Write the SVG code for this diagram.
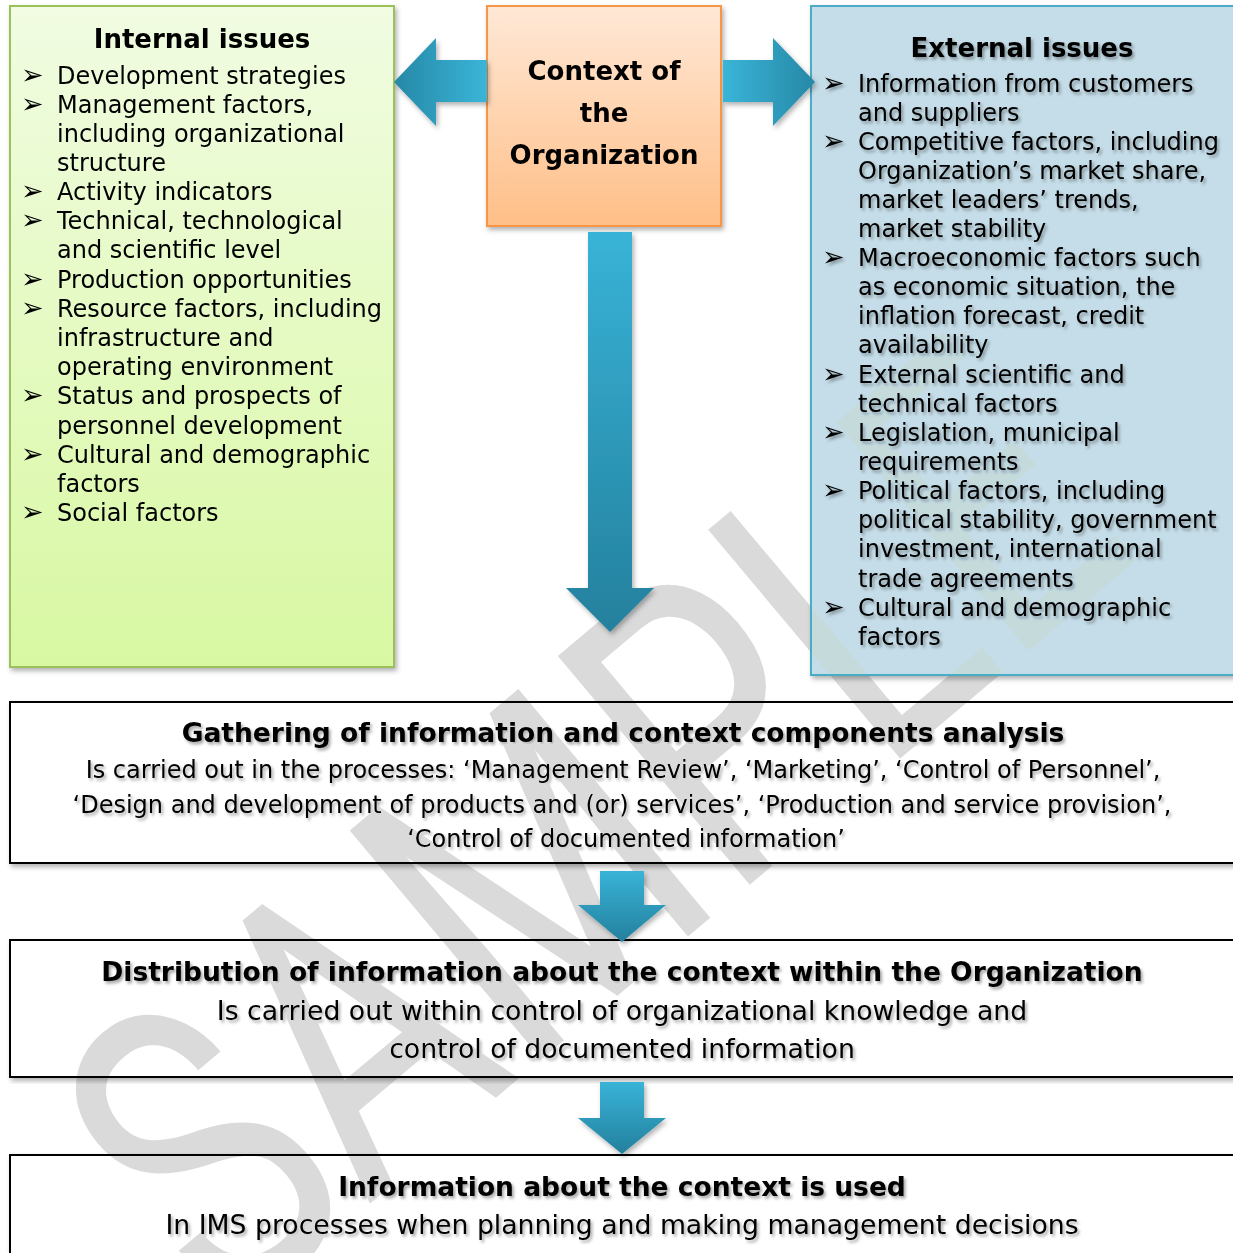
<svg xmlns="http://www.w3.org/2000/svg" width="1233" height="1253" viewBox="0 0 1233 1253">
<defs>
<linearGradient id="gGreen" x1="0" y1="0" x2="0" y2="1"><stop offset="0" stop-color="#f1fce2"/><stop offset="1" stop-color="#d8f8a2"/></linearGradient>
<linearGradient id="gOrange" x1="0" y1="0" x2="0" y2="1"><stop offset="0" stop-color="#ffe8d6"/><stop offset="1" stop-color="#ffbf88"/></linearGradient>
<linearGradient id="gLeft" x1="0" y1="0" x2="1" y2="0"><stop offset="0" stop-color="#2688a6"/><stop offset="1" stop-color="#3ab5d8"/></linearGradient>
<linearGradient id="gRight" x1="0" y1="0" x2="1" y2="0"><stop offset="0" stop-color="#3ab5d8"/><stop offset="1" stop-color="#2688a6"/></linearGradient>
<linearGradient id="gDown" x1="0" y1="0" x2="0" y2="1"><stop offset="0" stop-color="#38b3d7"/><stop offset="1" stop-color="#24809d"/></linearGradient>
<filter id="boxShadow" x="-5%" y="-5%" width="110%" height="110%"><feDropShadow dx="2" dy="3" stdDeviation="2.5" flood-color="#000" flood-opacity="0.3"/></filter>
<filter id="txtShadow" x="-5%" y="-20%" width="110%" height="160%"><feDropShadow dx="2" dy="2.5" stdDeviation="1.8" flood-color="#000" flood-opacity="0.35"/></filter>
</defs>
<style>
text{font-family:"DejaVu Sans","Verdana",sans-serif;fill:#000}
.h{font-weight:bold;font-size:26px;text-anchor:middle}
.li{font-size:24px}
.b{font-size:27px}
.t2{font-weight:bold;font-size:26.5px;text-anchor:middle}
.s2{font-size:24px;text-anchor:middle}
.s3{font-size:26.7px;text-anchor:middle}
.sh{filter:url(#txtShadow)}
.wbox{fill:#fff;stroke:#000;stroke-width:2}
.wm{font-family:Roboto,"DejaVu Sans",sans-serif;font-weight:400;font-size:420px;fill:#dadada}
</style>

<g id="internal-issues">
<rect x="10" y="6" width="384" height="661" fill="url(#gGreen)" stroke="#9bc25a" stroke-width="2" filter="url(#boxShadow)"/>
<text class="h" x="202" y="48">Internal issues</text>
<g class="li">
<text x="21" y="84"><tspan class="b">➢</tspan><tspan x="57">Development strategies</tspan></text>
<text x="21" y="113"><tspan class="b">➢</tspan><tspan x="57">Management factors,</tspan></text>
<text x="57" y="142">including organizational</text>
<text x="57" y="171">structure</text>
<text x="21" y="200"><tspan class="b">➢</tspan><tspan x="57">Activity indicators</tspan></text>
<text x="21" y="229"><tspan class="b">➢</tspan><tspan x="57">Technical, technological</tspan></text>
<text x="57" y="258">and scientific level</text>
<text x="21" y="288"><tspan class="b">➢</tspan><tspan x="57">Production opportunities</tspan></text>
<text x="21" y="317"><tspan class="b">➢</tspan><tspan x="57">Resource factors, including</tspan></text>
<text x="57" y="346">infrastructure and</text>
<text x="57" y="375">operating environment</text>
<text x="21" y="404"><tspan class="b">➢</tspan><tspan x="57">Status and prospects of</tspan></text>
<text x="57" y="434">personnel development</text>
<text x="21" y="463"><tspan class="b">➢</tspan><tspan x="57">Cultural and demographic</tspan></text>
<text x="57" y="492">factors</text>
<text x="21" y="521"><tspan class="b">➢</tspan><tspan x="57">Social factors</tspan></text>
</g>
</g>

<g id="context">
<rect x="487" y="6" width="234" height="220" fill="url(#gOrange)" stroke="#f79646" stroke-width="2" filter="url(#boxShadow)"/>
<text class="h" x="604" y="80">Context of</text>
<text class="h" x="604" y="122">the</text>
<text class="h" x="604" y="164">Organization</text>
</g>

<g id="external-issues">
<rect x="811" y="6" width="430" height="669" fill="#c5dde8" stroke="#4bacc6" stroke-width="2" filter="url(#boxShadow)"/>
<g class="sh">
<text class="h" x="1022" y="57">External issues</text>
<g class="li">
<text x="822" y="92"><tspan class="b">➢</tspan><tspan x="858">Information from customers</tspan></text>
<text x="858" y="121">and suppliers</text>
<text x="822" y="150"><tspan class="b">➢</tspan><tspan x="858">Competitive factors, including</tspan></text>
<text x="858" y="179">Organization’s market share,</text>
<text x="858" y="208">market leaders’ trends,</text>
<text x="858" y="237">market stability</text>
<text x="822" y="266"><tspan class="b">➢</tspan><tspan x="858">Macroeconomic factors such</tspan></text>
<text x="858" y="295">as economic situation, the</text>
<text x="858" y="324">inflation forecast, credit</text>
<text x="858" y="353">availability</text>
<text x="822" y="383"><tspan class="b">➢</tspan><tspan x="858">External scientific and</tspan></text>
<text x="858" y="412">technical factors</text>
<text x="822" y="441"><tspan class="b">➢</tspan><tspan x="858">Legislation, municipal</tspan></text>
<text x="858" y="470">requirements</text>
<text x="822" y="499"><tspan class="b">➢</tspan><tspan x="858">Political factors, including</tspan></text>
<text x="858" y="528">political stability, government</text>
<text x="858" y="557">investment, international</text>
<text x="858" y="587">trade agreements</text>
<text x="822" y="616"><tspan class="b">➢</tspan><tspan x="858">Cultural and demographic</tspan></text>
<text x="858" y="645">factors</text>
</g>
</g>
</g>

<g id="gathering">
<rect class="wbox" x="10" y="702" width="1240" height="161" filter="url(#boxShadow)"/>
<g class="sh">
<text class="t2" x="623" y="742">Gathering of information and context components analysis</text>
<text class="s2" x="623" y="778">Is carried out in the processes: ‘Management Review’, ‘Marketing’, ‘Control of Personnel’,</text>
<text class="s2" x="622" y="813">‘Design and development of products and (or) services’, ‘Production and service provision’,</text>
<text class="s2" x="626" y="847">‘Control of documented information’</text>
</g>
</g>

<g id="distribution">
<rect class="wbox" x="10" y="940" width="1240" height="137" filter="url(#boxShadow)"/>
<g class="sh">
<text class="t2" x="622" y="981">Distribution of information about the context within the Organization</text>
<text class="s3" x="622" y="1020">Is carried out within control of organizational knowledge and</text>
<text class="s3" x="622" y="1058">control of documented information</text>
</g>
</g>

<g id="usage">
<rect class="wbox" x="10" y="1155" width="1240" height="120" filter="url(#boxShadow)"/>
<g class="sh">
<text class="t2" x="622" y="1196">Information about the context is used</text>
<text class="s3" x="622" y="1234">In IMS processes when planning and making management decisions</text>
</g>
</g>

<g id="connectors" filter="url(#boxShadow)">
<polygon points="487,60 436,60 436,38 394,82 436,126 436,102 487,102" fill="url(#gLeft)"/>
<polygon points="723,60 773,60 773,38 815,82 773,126 773,102 723,102" fill="url(#gRight)"/>
<polygon points="588,232 632,232 632,588 654,588 610,632 566,588 588,588" fill="url(#gDown)"/>
<polygon points="600,871 644,871 644,905 666,905 622,942 578,905 600,905" fill="url(#gDown)"/>
<polygon points="600,1082 644,1082 644,1118 666,1118 622,1154 578,1118 600,1118" fill="url(#gDown)"/>
</g>

<g id="watermark" style="mix-blend-mode:darken">
<text class="wm" x="0" y="0" transform="translate(225,1325) rotate(-40)" textLength="1200" lengthAdjust="spacingAndGlyphs">SAMPLE</text>
</g>
</svg>
